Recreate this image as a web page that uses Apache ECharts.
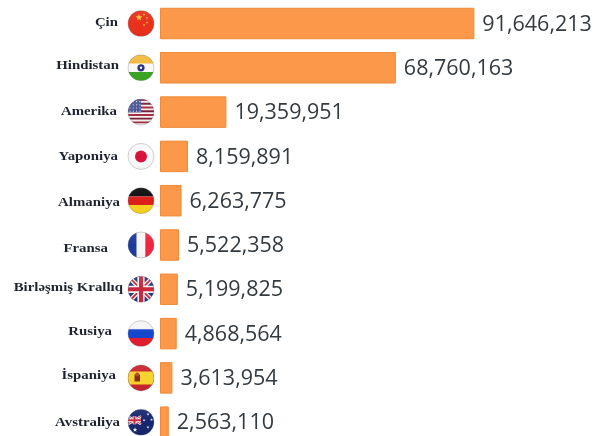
<!DOCTYPE html>
<html>
<head>
<meta charset="utf-8">
<style>html,body{margin:0;padding:0;background:#fff}#chart{width:593px;height:436px}</style>
<script src="https://cdn.jsdelivr.net/npm/echarts@6/dist/echarts.min.js"></script>
</head>
<body>
<div id="chart"></div>
<script>
// Countries ranked by value, top to bottom
const countries = ['Çin','Hindistan','Amerika','Yaponiya','Almaniya','Fransa','Birləşmiş Krallıq','Rusiya','İspaniya','Avstraliya'];
const values = [91646213,68760163,19359951,8159891,6263775,5522358,5199825,4868564,3613954,2563110];
const flagKeys = ['cn','in','us','jp','de','fr','gb','ru','es','au'];

// Hand-set name placement, relative to the bar start and row centre
const nameGap = [42,41,43,42,40,52,37,48,44,40];
const nameShift = [-1,-2,-1,0,1.5,4,-2,-2.5,-2,0.5];

const R = 13;
const rect = (x,y,width,height,fill) => ({type:'rect',shape:{x,y,width,height},style:{fill}});
const disc = (cx,cy,r,fill) => ({type:'circle',shape:{cx,cy,r},style:{fill}});
const bar = (x1,y1,x2,y2,stroke,lineWidth) => ({type:'line',shape:{x1,y1,x2,y2},style:{stroke,lineWidth}});
function star(cx,cy,r,fill){
  const points=[];
  for(let i=0;i<10;i++){
    const a=-Math.PI/2+i*Math.PI/5, q=i%2?r*0.42:r;
    points.push([cx+q*Math.cos(a),cy+q*Math.sin(a)]);
  }
  return {type:'polygon',shape:{points},style:{fill}};
}
function unionJack(x,y,w,h,sw){
  return [
    rect(x,y,w,h,'#27347c'),
    bar(x,y,x+w,y+h,'#f4f4f6',sw*1.1),bar(x+w,y,x,y+h,'#f4f4f6',sw*1.1),
    bar(x,y,x+w,y+h,'#c8283c',sw*0.45),bar(x+w,y,x,y+h,'#c8283c',sw*0.45),
    rect(x+w/2-sw*0.9,y,sw*1.8,h,'#f4f4f6'),rect(x,y+h/2-sw*0.9,w,sw*1.8,'#f4f4f6'),
    rect(x+w/2-sw*0.5,y,sw,h,'#c8283c'),rect(x,y+h/2-sw*0.5,w,sw,'#c8283c')
  ];
}
const flags = {
  cn:()=>[rect(-R,-R,2*R,2*R,'#e8301a'),star(-2,-6,3.6,'#f5c542'),star(3,-9,1.4,'#f5c542'),star(6,-5.5,1.4,'#f5c542'),star(6,-1,1.4,'#f5c542'),star(3,1.5,1.4,'#f5c542')],
  in:()=>[rect(-R,-R,2*R,2*R,'#f7f7f7'),rect(-R,-R,2*R,8.7,'#f2b93c'),rect(-R,4.3,2*R,8.7,'#3aa322'),disc(0,0,3.6,'#27347c'),disc(0,0,1.2,'#f7f7f7')],
  us:()=>{
    const out=[rect(-R,-R,2*R,2*R,'#f2f2f4')];
    for(let i=0;i<7;i++) out.push(rect(-R,-R+i*3.72,2*R,1.9,i%2?'#7a2036':'#a82c40'));
    out.push(rect(-R,-R,13,13.2,'#4a5596'));
    for(let a=0;a<4;a++) for(let b=0;b<4;b++) out.push(disc(-11+b*3.3,-10.5+a*3.2,0.6,'#e6e8f2'));
    return out;
  },
  jp:()=>[rect(-R,-R,2*R,2*R,'#fafafa'),disc(0,0,6,'#d8123c')],
  de:()=>[rect(-R,-R,2*R,8.7,'#0c0c0c'),rect(-R,-4.3,2*R,8.7,'#dc1f1a'),rect(-R,4.3,2*R,8.7,'#f9d21e')],
  fr:()=>[rect(-R,-R,8.7,2*R,'#1c3a9c'),rect(-4.3,-R,8.7,2*R,'#f7f7f7'),rect(4.3,-R,8.7,2*R,'#f0243f')],
  gb:()=>unionJack(-R,-R,2*R,2*R,4),
  ru:()=>[rect(-R,-R,2*R,8.7,'#f5f5f5'),rect(-R,-4.3,2*R,8.7,'#1447cc'),rect(-R,4.3,2*R,8.7,'#e21c2e')],
  es:()=>[rect(-R,-R,2*R,2*R,'#c8242c'),rect(-R,-6.5,2*R,13,'#f7d32e'),rect(-6.5,-3.5,5.5,7,'#8a2a1e'),disc(-3.8,-3.5,2,'#a5502a')],
  au:()=>[rect(-R,-R,2*R,2*R,'#16266e'),...unionJack(-R,-6,13,8,2),star(-6,7.5,2.4,'#f4f4f6'),star(7,-8,1.5,'#f4f4f6'),star(7,5,1.5,'#f4f4f6'),star(3,-2,1.5,'#f4f4f6'),star(10.5,-2.5,1.5,'#f4f4f6')]
};

// Circular flag with a thin rim
function flagBadge(key){
  return {
    type:'group',
    children:[
      {type:'group',clipPath:{type:'circle',shape:{cx:0,cy:0,r:R}},children:flags[key]()},
      {type:'circle',shape:{cx:0,cy:0,r:R},style:{
        fill:{type:'linear',x:0,y:0,x2:0,y2:1,colorStops:[
          {offset:0,color:'rgba(255,255,255,0.08)'},
          {offset:0.5,color:'rgba(255,255,255,0)'},
          {offset:1,color:'rgba(0,0,0,0.03)'}]},
        stroke:'rgba(110,110,120,0.4)',lineWidth:0.8}}
    ]
  };
}

const chart = echarts.init(document.getElementById('chart'));
chart.setOption({
  animation:false,
  backgroundColor:'#ffffff',
  grid:{left:160,top:1.35,width:343,height:443,outerBoundsMode:'none'},
  xAxis:{type:'value',min:0,max:100000000,show:false},
  yAxis:{type:'category',inverse:true,data:countries,axisLine:{show:false},axisTick:{show:false},axisLabel:{show:false}},
  series:[
    {
      type:'bar',
      data:values,
      barWidth:31.5,
      silent:true,
      itemStyle:{color:'#fb9849',borderColor:'#ee8a38',borderWidth:1},
      label:{
        show:true,position:'right',distance:8,offset:[0,1],
        formatter:p=>p.value.toLocaleString('en-US'),
        fontFamily:'"Open Sans"',fontSize:21.5,color:'#333a40'
      }
    },
    {
      type:'custom',
      silent:true,
      clip:false,
      encode:{x:0,y:1},
      data:countries.map((c,i)=>[0,i]),
      renderItem:(params,api)=>{
        const i=api.value(1);
        const p=api.coord([0,i]);
        const badge=flagBadge(flagKeys[i]);
        badge.x=p[0]-19; badge.y=p[1];
        return {type:'group',children:[
          badge,
          {type:'text',x:p[0]-nameGap[i],y:p[1]+nameShift[i],scaleX:1.1,
            style:{text:countries[i],align:'right',verticalAlign:'middle',
              fontFamily:'"Liberation Serif"',fontWeight:'bold',fontSize:13.5,fill:'#1f2430'}}
        ]};
      }
    }
  ]
});
</script>
</body>
</html>
